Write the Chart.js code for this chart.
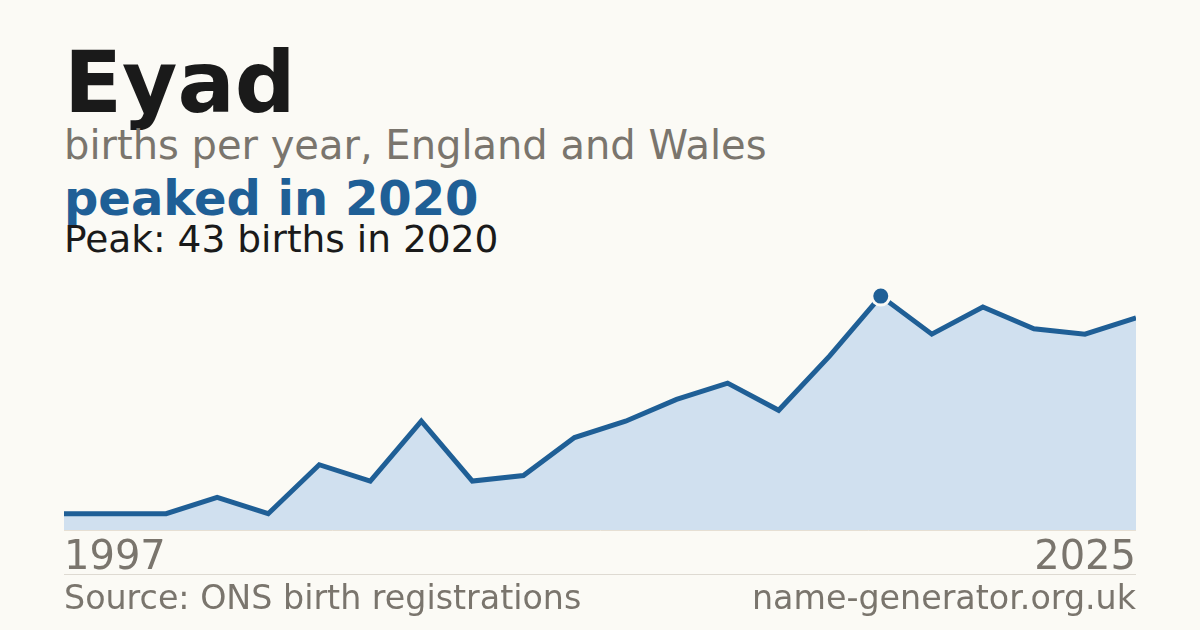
<!DOCTYPE html>
<html>
<head>
<meta charset="utf-8">
<script src="https://cdn.jsdelivr.net/npm/chart.js@4/dist/chart.umd.min.js"></script>
<style>
  html, body { margin:0; padding:0; }
  body { width:1200px; height:630px; background:#fbfaf5; position:relative; overflow:hidden;
         font-family:"DejaVu Sans", sans-serif; }
  .txt { position:absolute; left:64px; line-height:1; white-space:nowrap; }
  #title { top:40px; font-size:85px; font-weight:bold; color:#1a1a1a; }
  #sub { top:125px; font-size:40px; color:#7a756d; }
  #peakHead { top:173.5px; font-size:48px; font-weight:bold; color:#1f5f96; }
  #peakLine { top:221px; font-size:37.5px; color:#1a1a1a; }
  #chartBox { position:absolute; left:64px; top:258px; width:1072px; height:322px; }
  #rule { position:absolute; left:64px; top:574px; width:1072px; height:1px; background:#dedad2; }
  .foot { position:absolute; top:581px; font-size:33.3px; line-height:1; color:#7a756d; white-space:nowrap; }
</style>
</head>
<body>
<div class="txt" id="title">Eyad</div>
<div class="txt" id="sub">births per year, England and Wales</div>
<div class="txt" id="peakHead">peaked in 2020</div>
<div class="txt" id="peakLine">Peak: 43 births in 2020</div>
<div id="chartBox"><canvas id="births"></canvas></div>
<div id="rule"></div>
<div class="foot" style="left:64px">Source: ONS birth registrations</div>
<div class="foot" style="right:64px">name-generator.org.uk</div>

<script>
//years with a recorded count (only first and last get a label)
var years = ['1997','2001','2003','2005','2006','2007','2008','2009','2010','2011','2012',
             '2013','2014','2015','2016','2019','2020','2021','2022','2023','2024','2025'];
//births per year
var births = [3, 3, 3, 6, 3, 12, 9, 20, 9, 10, 17, 20, 24, 27, 22, 32, 43, 36, 41, 37, 36, 39];
//year to mark with a dot
var peakYear = '2020';

//only the peak gets a visible point
var pointSizes = years.map(function(y){ return y === peakYear ? 9 : 0; });

new Chart(document.getElementById('births'), {
  type: 'line',
  data: {
    labels: years,
    datasets: [{
      data: births,
      borderColor: '#1f5f96',
      borderWidth: 5,
      backgroundColor: '#d0e0ef',
      fill: 'origin',
      tension: 0,
      pointRadius: pointSizes,
      pointHoverRadius: pointSizes,
      pointBackgroundColor: '#1f5f96',
      pointBorderColor: '#fbfaf5',
      pointBorderWidth: 3
    }]
  },
  options: {
    responsive: true,
    maintainAspectRatio: false,
    animation: false,
    //no extra room for line ends, chart area = box width
    layout: { padding: 0, autoPadding: false },
    plugins: { legend: { display: false }, tooltip: { enabled: false } },
    scales: {
      x: {
        grid: { display: false },
        border: { display: true, color: '#e6dfd3', width: 1 },
        ticks: {
          autoSkip: false,
          maxRotation: 0,
          align: 'inner',
          padding: -3,
          color: '#7a756d',
          font: { family: 'DejaVu Sans', size: 40 },
          callback: function(v, i){ return (i === 0 || i === years.length - 1) ? years[i] : ''; }
        }
      },
      y: {
        display: false,
        min: 0,
        max: 50
      }
    }
  }
});
</script>
</body>
</html>
